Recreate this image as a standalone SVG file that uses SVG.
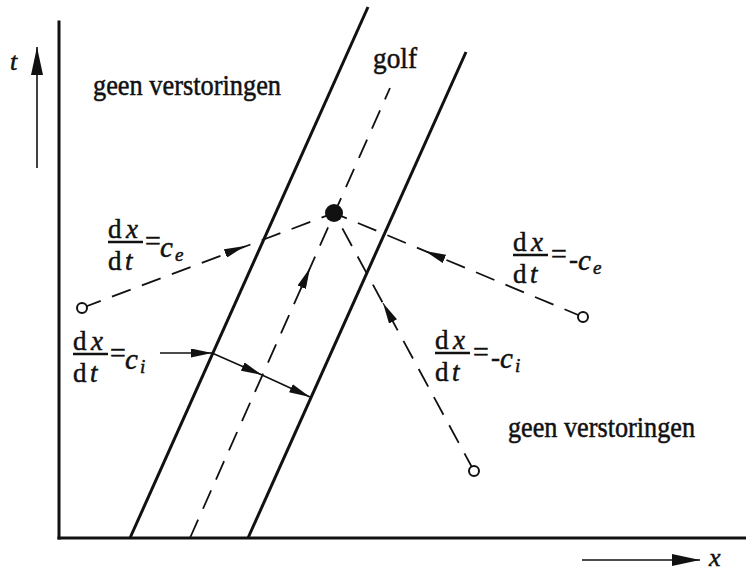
<svg xmlns="http://www.w3.org/2000/svg" width="746" height="572" viewBox="0 0 746 572">
<style>
.ax{stroke:#111;stroke-width:3;fill:none;stroke-linecap:square}
.band{stroke:#111;stroke-width:3;fill:none}
.dash{stroke:#111;stroke-width:1.8;fill:none;stroke-dasharray:20 12}
.thin{stroke:#111;stroke-width:1.6;fill:none}
.ah{stroke:#111;stroke-width:1;fill:none}
.lbl{font-family:"Liberation Serif","Times New Roman",serif;fill:#111;stroke:#111;stroke-width:0.5}
.it{font-style:italic}
.bar{stroke:#111;stroke-width:2.4}
.oc{fill:#fff;stroke:#111;stroke-width:2}
</style>
<defs>
<marker id="arr" viewBox="0 0 21 9" refX="21" refY="4.5" markerWidth="21" markerHeight="9" markerUnits="userSpaceOnUse" orient="auto">
<path d="M0,0 L21,4.5 L0,9 Z" fill="#111"/>
</marker>
<marker id="arrL" viewBox="0 0 28 12" refX="28" refY="6" markerWidth="28" markerHeight="12" markerUnits="userSpaceOnUse" orient="auto">
<path d="M0,0 L28,6 L0,12 Z" fill="#111"/>
</marker>
</defs>

<g id="axes">
<line class="ax" x1="59" y1="22" x2="59" y2="538"/>
<line class="ax" x1="59" y1="538" x2="746" y2="538"/>
<line class="thin" x1="37" y1="168" x2="37" y2="47" marker-end="url(#arrL)"/>
<line class="thin" x1="582" y1="560" x2="700" y2="560" marker-end="url(#arrL)"/>
<text class="lbl it" x="10" y="70" font-size="26">t</text>
<text class="lbl it" x="709" y="566" font-size="26">x</text>
</g>

<g id="band">
<line class="band" x1="130" y1="538" x2="368" y2="7"/>
<line class="band" x1="248" y1="538" x2="466" y2="52"/>
</g>

<g id="connectors">
<line class="dash" x1="190" y1="538" x2="390" y2="88"/>
<line class="dash" x1="82" y1="308" x2="334" y2="213"/>
<line class="dash" x1="583" y1="317" x2="334" y2="213"/>
<line class="dash" x1="474" y1="471" x2="334" y2="213"/>
<path class="ah" d="M308.4,271.7 L310,268" marker-end="url(#arr)"/>
<path class="ah" d="M241.3,247.4 L245,246" marker-end="url(#arr)"/>
<path class="ah" d="M428.7,252.5 L425,251" marker-end="url(#arr)"/>
<path class="ah" d="M384.9,306.5 L383,303" marker-end="url(#arr)"/>
<path class="thin" d="M160,353 L212,353" marker-end="url(#arr)"/>
<path class="thin" d="M212,353 L262,375" marker-end="url(#arr)"/>
<path class="thin" d="M262,375 L310,397" marker-end="url(#arr)"/>
</g>

<g id="dot"><circle cx="334" cy="213" r="9" fill="#111"/></g>
<g id="p1"><circle class="oc" cx="82" cy="308" r="5"/></g>
<g id="p2"><circle class="oc" cx="583" cy="317" r="5"/></g>
<g id="p3"><circle class="oc" cx="474" cy="471" r="5"/></g>

<g id="label-geen-1"><text class="lbl" x="93" y="95" font-size="29" textLength="188" lengthAdjust="spacingAndGlyphs">geen verstoringen</text></g>
<g id="label-geen-2"><text class="lbl" x="508" y="437" font-size="29" textLength="187" lengthAdjust="spacingAndGlyphs">geen verstoringen</text></g>
<g id="label-golf"><text class="lbl" x="373" y="68" font-size="29" textLength="44" lengthAdjust="spacingAndGlyphs">golf</text></g>

<g id="label-ce" transform="translate(108,242)" class="lbl" font-size="27">
<text x="0" y="-4">d</text><text class="it" x="18" y="-4">x</text>
<line class="bar" x1="0" y1="0" x2="35" y2="0"/>
<text x="0" y="28">d</text><text class="it" x="17" y="28">t</text>
<text x="37" y="8" font-size="28">=</text>
<text class="it" x="52" y="15" font-size="29">c</text><text class="it" x="67" y="19" font-size="19">e</text>
</g>

<g id="label-ci" transform="translate(73,354)" class="lbl" font-size="27">
<text x="0" y="-4">d</text><text class="it" x="18" y="-4">x</text>
<line class="bar" x1="0" y1="0" x2="35" y2="0"/>
<text x="0" y="28">d</text><text class="it" x="17" y="28">t</text>
<text x="37" y="8" font-size="28">=</text>
<text class="it" x="52" y="15" font-size="29">c</text><text class="it" x="67" y="19" font-size="19">i</text>
</g>

<g id="label-mce" transform="translate(513,255)" class="lbl" font-size="27">
<text x="0" y="-4">d</text><text class="it" x="18" y="-4">x</text>
<line class="bar" x1="0" y1="0" x2="35" y2="0"/>
<text x="0" y="28">d</text><text class="it" x="17" y="28">t</text>
<text x="38" y="8" font-size="28">=</text>
<text class="it" x="56" y="13">-</text>
<text class="it" x="65" y="15" font-size="29">c</text><text class="it" x="80" y="19" font-size="19">e</text>
</g>

<g id="label-mci" transform="translate(435,353)" class="lbl" font-size="27">
<text x="0" y="-4">d</text><text class="it" x="18" y="-4">x</text>
<line class="bar" x1="0" y1="0" x2="35" y2="0"/>
<text x="0" y="28">d</text><text class="it" x="17" y="28">t</text>
<text x="38" y="8" font-size="28">=</text>
<text class="it" x="56" y="13">-</text>
<text class="it" x="65" y="15" font-size="29">c</text><text class="it" x="80" y="19" font-size="19">i</text>
</g>
</svg>
